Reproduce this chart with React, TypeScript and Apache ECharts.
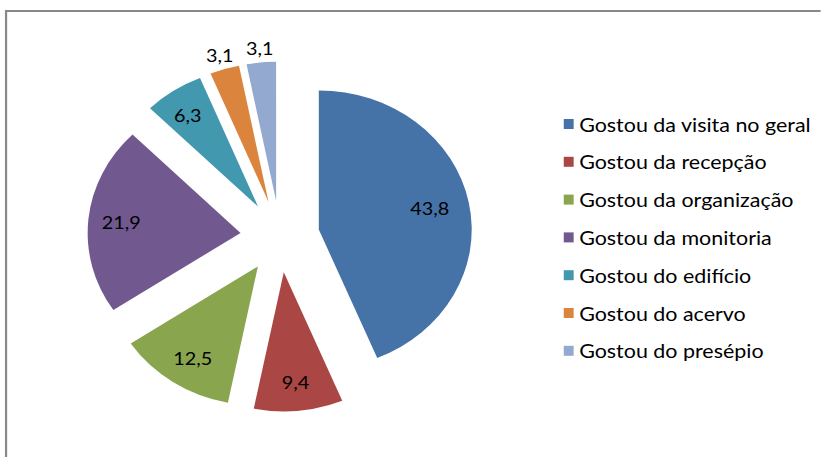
import React, { useEffect, useRef } from "react";
import * as echarts from "echarts";

const categories = [
  "Gostou da visita no geral",
  "Gostou da recepção",
  "Gostou da organização",
  "Gostou da monitoria",
  "Gostou do edifício",
  "Gostou do acervo",
  "Gostou do presépio",
];
const values = [43.8, 9.4, 12.5, 21.9, 6.3, 3.1, 3.1];
const colors = ["#4572A7", "#AA4643", "#89A54E", "#71588F", "#4198AF", "#DB843D", "#93A9CF"];
const labelOutside = [false, false, false, false, false, true, true];

const STRETCH = 1.1;
const W = 821;
const H = 457;

// small per-slice label nudges (best-fit placement of the original)
const LABEL_NUDGE: number[][] = [[-7, -4], [0, 10], [2, 6], [1, 7], [-3, 1], [0, 0], [0, 0]];

const nudgePadding = (n: number[]) => [
  Math.max(0, 2 * n[1]),
  Math.max(0, -2 * n[0]),
  Math.max(0, -2 * n[1]),
  Math.max(0, 2 * n[0]),
];

export default function App() {
  const ref = useRef<HTMLDivElement>(null);
  useEffect(() => {
    if (!ref.current) return;
    const chart = echarts.init(ref.current, null, { renderer: "svg" });
    const font = "Lato, 'Open Sans', sans-serif";
    const fmt = (p: any) => Number(p.value).toFixed(1).replace(".", ",");
    const center = [254.5, 236.5];
    const R = 139;
    const base: any = {
      type: "pie",
      center,
      startAngle: 90,
      clockwise: true,
      selectedMode: "multiple",
      selectedOffset: 36,
      avoidLabelOverlap: false,
      emphasis: { disabled: true },
      labelLine: { show: false },
      silent: true,
    };
    const labelStyle = {
      position: "inside",
      formatter: fmt,
      fontFamily: font,
      fontSize: 18,
      color: "#000",
    };
    chart.setOption({
      animation: false,
      backgroundColor: "#fff",
      graphic: [
        {
          type: "rect",
          shape: { x: 5.5, y: 11, width: 900, height: 600 },
          style: { fill: "none", stroke: "#888", lineWidth: 2 },
          silent: true,
        },
      ],
      legend: {
        orient: "vertical",
        left: 507.5,
        top: 109,
        icon: "rect",
        itemWidth: 9,
        itemHeight: 10,
        itemGap: 17.8,
        selectedMode: false,
        data: categories,
        textStyle: { fontFamily: font, fontSize: 19.5, color: "#000", lineHeight: 20 },
      },
      series: [
        {
          ...base,
          name: "main",
          radius: [0, R],
          label: { show: false },
          itemStyle: { borderWidth: 0 },
          data: categories.map((name, i) => ({
            name,
            value: values[i],
            selected: true,
            itemStyle: { color: colors[i] },
          })),
        },
        {
          ...base,
          name: "labelsInside",
          radius: [75, R],
          itemStyle: { color: "rgba(0,0,0,0)", borderWidth: 0 },
          data: categories.map((name, i) => ({
            name,
            value: values[i],
            selected: true,
            label: { show: !labelOutside[i], ...labelStyle, padding: nudgePadding(LABEL_NUDGE[i]) },
          })),
        },
        {
          ...base,
          name: "labelsOutside",
          radius: [R, 163],
          itemStyle: { color: "rgba(0,0,0,0)", borderWidth: 0 },
          data: categories.map((name, i) => ({
            name,
            value: values[i],
            selected: true,
            label: { show: labelOutside[i], ...labelStyle, padding: nudgePadding(LABEL_NUDGE[i]) },
          })),
        },
      ],
    });
    return () => chart.dispose();
  }, []);

  return (
    <div
      style={{
        position: "fixed",
        left: 0,
        top: 0,
        width: W,
        height: H,
        overflow: "hidden",
        background: "#fff",
      }}
    >
      <div
        ref={ref}
        style={{
          width: W / STRETCH,
          height: H,
          transform: `scaleX(${STRETCH})`,
          transformOrigin: "0 0",
        }}
      />
    </div>
  );
}
